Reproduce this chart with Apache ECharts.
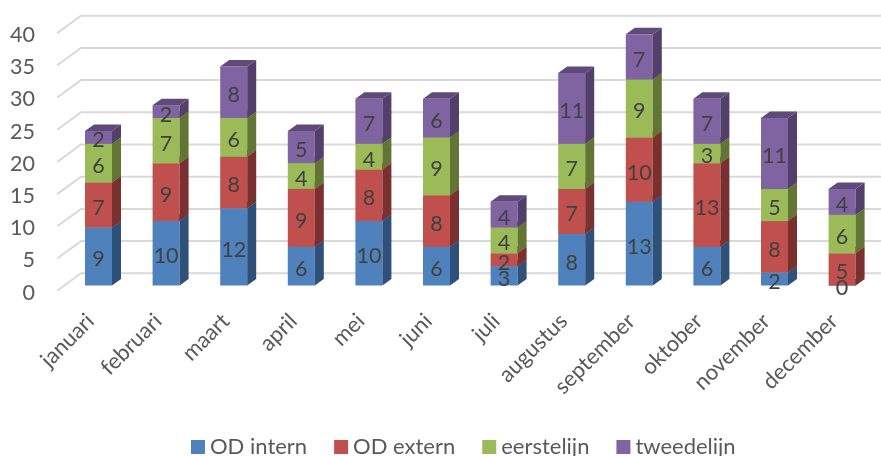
<!DOCTYPE html>
<html>
<head>
<meta charset="utf-8">
<style>
  html, body { margin: 0; background: #fff; }
  #chart { width: 881px; height: 456px; }
</style>
<script src="https://cdn.jsdelivr.net/npm/echarts@6/dist/echarts.min.js"></script>
</head>
<body>
<div id="chart"></div>
<script>
const months = ['januari', 'februari', 'maart', 'april', 'mei', 'juni', 'juli', 'augustus', 'september', 'oktober', 'november', 'december'];
const odIntern = [9, 10, 12, 6, 10, 6, 3, 8, 13, 6, 2, 0];
const odExtern = [7, 9, 8, 9, 8, 8, 2, 7, 10, 13, 8, 5];
const eerstelijn = [6, 7, 6, 4, 4, 9, 4, 7, 9, 3, 5, 6];
const tweedelijn = [2, 2, 8, 5, 7, 6, 4, 11, 7, 7, 11, 4];
const yTicks = [0, 5, 10, 15, 20, 25, 30, 35, 40];

// naam, waarden, voorkant, zijkant, bovenkant
const stacks = [
  ['OD intern', odIntern, '#4f81bd', '#2f5078', '#3a6190'],
  ['OD extern', odExtern, '#c0504d', '#7a302e', '#8f3c3a'],
  ['eerstelijn', eerstelijn, '#9bbb59', '#627535', '#728a42'],
  ['tweedelijn', tweedelijn, '#8064a2', '#533f6b', '#5f4b7a']
];

const barWidth = 27;
const depthX = 9;
const depthY = 6.5;

// startwaarde van elk segment optellen
const totals = months.map(() => 0);
const barSeries = stacks.map(function (s) {
  const rows = s[1].map(function (v, i) {
    const row = [i, totals[i], totals[i] + v];
    totals[i] += v;
    return row;
  });
  return {
    name: s[0],
    type: 'custom',
    z: 3,
    silent: true,
    itemStyle: { color: s[2] },
    encode: { x: 0, y: [1, 2] },
    data: rows,
    renderItem: function (params, api) {
      const low = api.coord([api.value(0), api.value(1)]);
      const high = api.coord([api.value(0), api.value(2)]);
      const x0 = low[0] - barWidth / 2;
      const x1 = x0 + barWidth;
      return {
        type: 'group',
        children: [{
          type: 'rect',
          shape: { x: x0, y: high[1], width: barWidth, height: low[1] - high[1] },
          style: { fill: s[2] }
        }, {
          type: 'polygon',
          shape: { points: [[x1, low[1]], [x1 + depthX, low[1] - depthY], [x1 + depthX, high[1] - depthY], [x1, high[1]]] },
          style: { fill: s[3] }
        }, {
          type: 'polygon',
          shape: { points: [[x0, high[1]], [x0 + depthX, high[1] - depthY], [x1 + depthX, high[1] - depthY], [x1, high[1]]] },
          style: { fill: s[4] }
        }]
      };
    }
  };
});

// labels apart, zodat ze altijd boven alle segmenten liggen
const labelRows = [];
stacks.forEach(function (s, k) {
  barSeries[k].data.forEach(function (r) {
    labelRows.push([r[0], (r[1] + r[2]) / 2, r[2] - r[1]]);
  });
});

const chart = echarts.init(document.getElementById('chart'));
chart.setOption({
  backgroundColor: '#fff',
  animation: false,
  textStyle: { fontFamily: 'Lato' },
  grid: [
    { left: 64.7, top: 27.9, width: 811.2, height: 257.6 },
    // tweede grid alleen voor de aslabels, die staan op de voorrand van de vloer
    { left: 56.7, top: 35, width: 811.2, height: 257.6 }
  ],
  legend: {
    left: 191,
    top: 436,
    padding: 0,
    itemWidth: 14,
    itemHeight: 14,
    itemGap: 27,
    icon: 'rect',
    data: stacks.map(s => s[0]),
    selectedMode: false,
    textStyle: { color: '#595959', fontSize: 22, fontFamily: 'Lato' }
  },
  xAxis: [{
    type: 'category',
    data: months,
    axisLine: { show: false },
    axisTick: { show: false },
    axisLabel: { show: false }
  }, {
    type: 'category',
    gridIndex: 1,
    data: months,
    axisLine: { show: false },
    axisTick: { show: false },
    axisLabel: { rotate: 45, margin: 25, interval: 0, color: '#595959', fontSize: 22, fontFamily: 'Lato' }
  }],
  yAxis: [{
    type: 'value',
    min: 0,
    max: 40,
    interval: 5,
    axisLine: { show: false },
    axisTick: { show: false },
    splitLine: { show: false },
    axisLabel: { show: false }
  }, {
    type: 'value',
    gridIndex: 1,
    min: 0,
    max: 40,
    interval: 5,
    axisLine: { show: false },
    axisTick: { show: false },
    splitLine: { show: false },
    axisLabel: { color: '#595959', fontSize: 21.5, fontFamily: 'Lato', margin: 21.7 }
  }],
  series: [{
    type: 'custom',
    name: 'raster',
    z: 1,
    silent: true,
    encode: { y: 0 },
    data: yTicks.map(v => [v]),
    renderItem: function (params, api) {
      const y = api.coord([0, api.value(0)])[1];
      const x = params.coordSys.x;
      return {
        type: 'polyline',
        shape: { points: [[x - 7.5, y + 5.2], [x + 16.3, y - 12.2], [881, y - 12.2]] },
        style: { fill: null, stroke: '#d9d9d9', lineWidth: 2 }
      };
    }
  }].concat(barSeries, [{
    type: 'custom',
    name: 'labels',
    z: 5,
    silent: true,
    encode: { x: 0, y: 1 },
    data: labelRows,
    renderItem: function (params, api) {
      const p = api.coord([api.value(0), api.value(1)]);
      return {
        type: 'text',
        x: p[0],
        y: p[1] + 3,
        style: {
          text: String(api.value(2)),
          fill: '#404040',
          fontSize: 21.5,
          fontFamily: 'Lato',
          align: 'center',
          verticalAlign: 'middle'
        }
      };
    }
  }])
});
</script>
</body>
</html>
